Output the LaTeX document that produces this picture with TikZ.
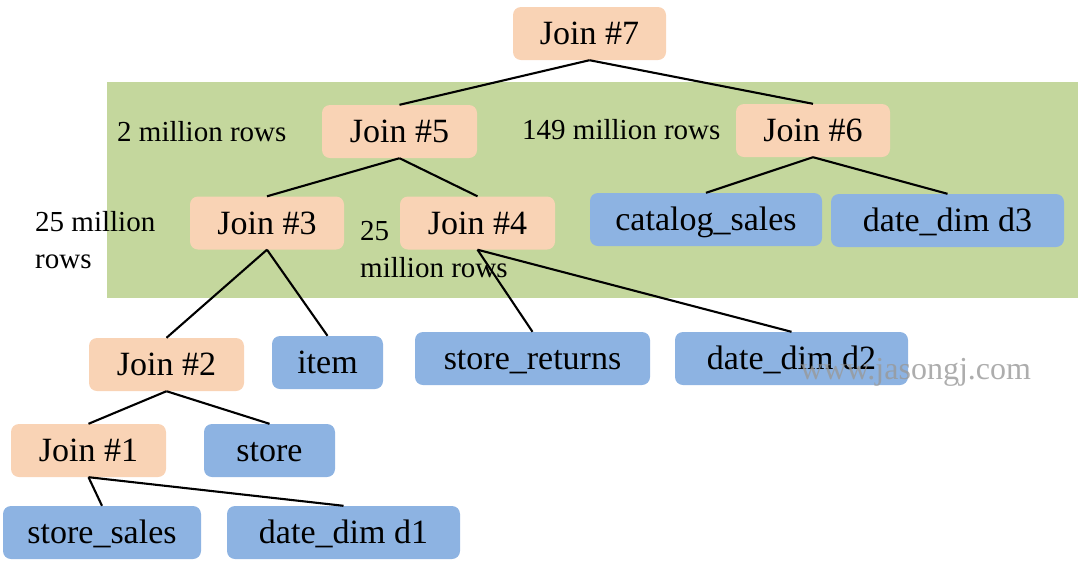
\documentclass[tikz,border=0pt]{standalone}
\usepackage{fontspec}
\setmainfont{Liberation Serif}
\definecolor{joinfill}{HTML}{F9D3B5}
\definecolor{tabfill}{HTML}{8DB3E2}
\definecolor{grp}{HTML}{C4D79D}
\tikzset{
  box/.style={rounded corners=8pt, inner sep=0pt, minimum height=53pt,
    font=\fontsize{34}{40}\selectfont, text height=22pt, text depth=0pt},
  joinbox/.style={box, fill=joinfill},
  tabbox/.style={box, fill=tabfill},
  lbl/.style={inner sep=0pt, font=\fontsize{29}{37}\selectfont, align=left},
  conn/.style={line width=2.1pt, black},
}
\begin{document}
\begin{tikzpicture}[x=1pt,y=-1pt]
\useasboundingbox (0,0) rectangle (1080,566);
\fill[grp] (107,82) rectangle (1078,298);

\node[joinbox, minimum width=153pt] (j7) at (589.5,33.5) {Join \#7};
\node[joinbox, minimum width=155pt] (j5) at (399.5,131.5) {Join \#5};
\node[joinbox, minimum width=154pt] (j6) at (813,130.5) {Join \#6};
\node[joinbox, minimum width=154pt] (j3) at (267,223) {Join \#3};
\node[joinbox, minimum width=155pt] (j4) at (477.5,223) {Join \#4};
\node[tabbox, minimum width=232pt] (cs) at (706,219.5) {catalog\_sales};
\node[tabbox, minimum width=233pt] (dd3) at (947.5,220.5) {date\_dim d3};
\node[joinbox, minimum width=155pt] (j2) at (166.5,364.5) {Join \#2};
\node[tabbox, minimum width=111pt] (item) at (327.5,362.5) {item};
\node[tabbox, minimum width=235pt] (sr) at (532.5,358.5) {store\_returns};
\node[tabbox, minimum width=233pt] (dd2) at (791.5,358.5) {date\_dim d2};
\node[joinbox, minimum width=155pt] (j1) at (88.5,450.5) {Join \#1};
\node[tabbox, minimum width=131pt] (store) at (269.5,450.5) {store};
\node[tabbox, minimum width=198pt] (ss) at (102,532.5) {store\_sales};
\node[tabbox, minimum width=233pt] (dd1) at (343.5,532.5) {date\_dim d1};

\node[lbl, anchor=west] (l5) at (117,132) {2 million rows};
\node[lbl, anchor=west] (l6) at (522,130) {149 million rows};
\node[lbl, anchor=west] (l3) at (35,240) {25 million\\rows};
\node[lbl, anchor=west] (l4) at (360,250) {25\\million rows};

\draw[conn] (j7.south) -- (j5.north);
\draw[conn] (j7.south) -- (j6.north);
\draw[conn] (j5.south) -- (j3.north);
\draw[conn] (j5.south) -- (j4.north);
\draw[conn] (j6.south) -- (cs.north);
\draw[conn] (j6.south) -- (dd3.north);
\draw[conn] (j3.south) -- (j2.north);
\draw[conn] (j3.south) -- (item.north);
\draw[conn] (j4.south) -- (sr.north);
\draw[conn] (j4.south) -- (dd2.north);
\draw[conn] (j2.south) -- (j1.north);
\draw[conn] (j2.south) -- (store.north);
\draw[conn] (j1.south) -- (ss.north);
\draw[conn] (j1.south) -- (dd1.north);

\node[inner sep=0pt, anchor=west, text=black!40, opacity=0.8,
  font=\fontsize{32}{36}\selectfont] (wm) at (800,372) {www.jasongj.com};
\end{tikzpicture}
\end{document}
